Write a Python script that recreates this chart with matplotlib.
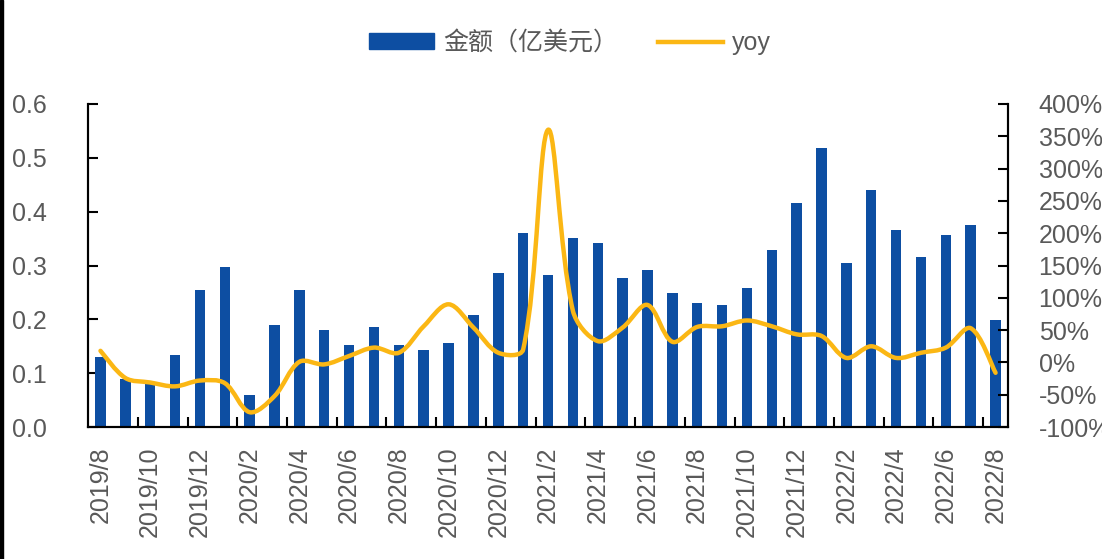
import matplotlib
matplotlib.use("Agg")
import matplotlib.pyplot as plt
from matplotlib.path import Path
from matplotlib.patches import PathPatch, Rectangle
from matplotlib.lines import Line2D
from matplotlib.ticker import FuncFormatter, MultipleLocator
import numpy as np

plt.rcParams['font.family'] = ['Liberation Sans', 'Noto Sans CJK SC', 'DejaVu Sans']

# 月份 2019/8 - 2022/8
meses = []
for anio in range(2019, 2023):
    for m in range(1, 13):
        if (anio == 2019 and m < 8) or (anio == 2022 and m > 8):
            continue
        meses.append(f"{anio}/{m}")

# 金额（亿美元）
monto = [0.13, 0.09, 0.08, 0.134, 0.254, 0.297, 0.06, 0.19, 0.254, 0.181,
         0.152, 0.185, 0.152, 0.144, 0.157, 0.208, 0.287, 0.361, 0.282, 0.351,
         0.342, 0.277, 0.291, 0.249, 0.231, 0.226, 0.259, 0.328, 0.416, 0.518,
         0.305, 0.44, 0.366, 0.315, 0.356, 0.375, 0.198]

# yoy (fracción)
yoy = [0.18, -0.24, -0.31, -0.37, -0.28, -0.32, -0.77, -0.52, 0.01, -0.03,
       0.10, 0.23, 0.15, 0.56, 0.90, 0.54, 0.15, 0.20, 3.60, 0.80,
       0.33, 0.54, 0.89, 0.32, 0.55, 0.56, 0.65, 0.56, 0.435, 0.41,
       0.07, 0.25, 0.07, 0.15, 0.23, 0.53, -0.16]

azul = '#0d4ea2'
amarillo = '#fbb714'
gris = '#595959'


def curva_suave(xs, ys, trans):
    # bezier suavizado (estilo excel): tangentes pesadas por la longitud
    # de los segmentos medidos en pixeles
    pts = np.column_stack([xs, ys]).astype(float)
    pix = trans.transform(pts)
    n = len(pts)
    verts = [pts[0]]
    codes = [Path.MOVETO]

    def largo(a, b):
        return np.hypot(*(pix[b] - pix[a]))

    for i in range(n - 1):
        i0 = max(i - 1, 0)
        i3 = min(i + 2, n - 1)
        d01 = largo(i0, i)
        d12 = largo(i, i + 1)
        d23 = largo(i + 1, i3)
        f1 = d12 / (d01 + d12) / 3.0 if d01 > 0 else 1 / 6.0
        f2 = d12 / (d12 + d23) / 3.0 if d23 > 0 else 1 / 6.0
        c1 = pts[i] + (pts[i + 1] - pts[i0]) * f1
        c2 = pts[i + 1] - (pts[i3] - pts[i]) * f2
        verts += [c1, c2, pts[i + 1]]
        codes += [Path.CURVE4] * 3
    return Path(verts, codes)


x = np.arange(len(meses))

fig = plt.figure(figsize=(11.02, 5.59), dpi=100)
ax = fig.add_axes([0.0799, 0.236, 0.8348, 0.578])
ax2 = ax.twinx()

ax.bar(x, monto, width=0.42, color=azul, zorder=2)
ax.set_xlim(-0.5, len(meses) - 0.5)
ax.set_ylim(0, 0.6)
ax.yaxis.set_major_locator(MultipleLocator(0.1))
ax.yaxis.set_major_formatter(FuncFormatter(lambda v, p: f"{v:.1f}"))

ax.set_xticks(x[::2])
ax.set_xticklabels(meses[::2], rotation=90)
ax.set_xticks(np.arange(1.5, len(meses) - 1, 2), minor=True)
ax.tick_params(axis='x', which='major', length=0, pad=14, labelsize=18, labelcolor=gris)
ax.tick_params(axis='x', which='minor', direction='in', length=7, width=1.5)
ax.tick_params(axis='y', direction='in', length=7, width=1.5, pad=30,
               labelsize=18, labelcolor=gris)

ax2.set_xlim(-0.5, len(meses) - 0.5)
ax2.set_ylim(-1, 4)
ax2.yaxis.set_major_locator(MultipleLocator(0.5))
ax2.yaxis.set_major_formatter(FuncFormatter(lambda v, p: f"{v * 100:.0f}%"))
ax2.tick_params(axis='y', direction='in', length=7, width=1.5, pad=22,
                labelsize=18, labelcolor=gris)

ax2.add_patch(PathPatch(curva_suave(x, yoy, ax2.transData), facecolor='none',
                        edgecolor=amarillo, lw=3.2, capstyle='round',
                        joinstyle='round', zorder=3))

for a in (ax, ax2):
    a.spines['top'].set_visible(False)
    for lado in ('left', 'right', 'bottom'):
        a.spines[lado].set_linewidth(1.5)
        a.spines[lado].set_color('black')

manejadores = [Rectangle((0, 0), 1, 1, color=azul),
               Line2D([], [], color=amarillo, lw=3.2)]
fig.legend(manejadores, ['金额（亿美元）', 'yoy'], loc='center',
           bbox_to_anchor=(0.517, 0.923), ncol=2, frameon=False,
           fontsize=18, labelcolor=gris, handlelength=2.6, handleheight=0.6,
           handletextpad=0.35, columnspacing=1.6)

# borde negro a la izquierda
fig.patches.append(Rectangle((0, 0), 3 / 1102, 1, transform=fig.transFigure,
                             color='black', zorder=10))

fig.savefig("out.png", dpi=100)
